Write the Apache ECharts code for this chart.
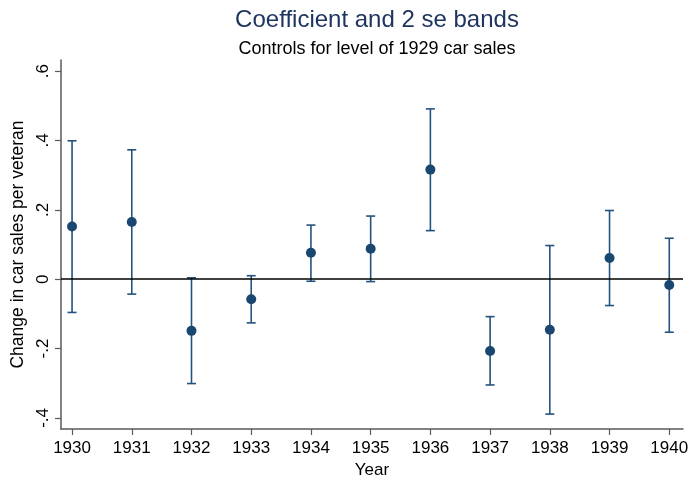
<!DOCTYPE html>
<html>
<head>
<meta charset="utf-8">
<script src="https://cdn.jsdelivr.net/npm/echarts@6/dist/echarts.min.js"></script>
<style>
  html, body { margin: 0; padding: 0; background: #fff; }
  #chart { width: 689px; height: 478px; }
</style>
</head>
<body>
<div id="chart"></div>
<script>
// Year-by-year coefficient estimates with +/- 2 standard error bands
const years = [1930, 1931, 1932, 1933, 1934, 1935, 1936, 1937, 1938, 1939, 1940];
const coef  = [0.152, 0.165, -0.149, -0.058, 0.076, 0.088, 0.316, -0.207, -0.146, 0.061, -0.017];
const upper = [0.399, 0.373, 0.004, 0.010, 0.156, 0.182, 0.491, -0.108, 0.097, 0.198, 0.118];
const lower = [-0.096, -0.043, -0.301, -0.126, -0.006, -0.007, 0.140, -0.305, -0.389, -0.076, -0.153];

const yTickValues = [-0.4, -0.2, 0, 0.2, 0.4, 0.6];
const yTickLabels = ['-.4', '-.2', '0', '.2', '.4', '.6'];

const navy = '#1a476f';
const font = 'Liberation Sans, Arial, Helvetica, sans-serif';

const bandData = years.map((y, i) => [y, lower[i], upper[i]]);
const pointData = years.map((y, i) => [y, coef[i]]);

const chart = echarts.init(document.getElementById('chart'), null, { renderer: 'canvas' });

chart.setOption({
  animation: false,
  backgroundColor: '#fff',
  title: [
    {
      text: 'Coefficient and 2 se bands',
      left: 372, top: 3, textAlign: 'center',
      textStyle: { fontFamily: font, fontSize: 24, fontWeight: 'normal', color: '#1f3560' }
    },
    {
      text: 'Controls for level of 1929 car sales',
      left: 372, top: 35, textAlign: 'center',
      textStyle: { fontFamily: font, fontSize: 18, fontWeight: 'normal', color: '#000' }
    }
  ],
  grid: { left: 61, right: 6, top: 60, bottom: 49, containLabel: false, outerBoundsMode: 'none' },
  xAxis: {
    type: 'value',
    min: 1929.815,
    max: 1940.23,
    name: 'Year',
    nameLocation: 'middle',
    nameGap: 28,
    nameTextStyle: { fontFamily: font, fontSize: 17, color: '#000' },
    axisLine: { show: true, onZero: false, lineStyle: { color: '#5a5a5a', width: 1.5 } },
    axisTick: { show: true, length: 6, customValues: years, lineStyle: { color: '#5a5a5a', width: 1.2 } },
    axisLabel: {
      customValues: years,
      margin: 11,
      fontFamily: font, fontSize: 17, color: '#000',
      formatter: v => String(Math.round(v))
    },
    splitLine: { show: false }
  },
  yAxis: {
    type: 'value',
    min: -0.432,
    max: 0.632,
    name: 'Change in car sales per veteran',
    nameLocation: 'middle',
    nameRotate: 90,
    nameGap: 31,
    nameTextStyle: { fontFamily: font, fontSize: 17.5, color: '#000' },
    axisLine: { show: true, onZero: false, lineStyle: { color: '#5a5a5a', width: 1.5 } },
    axisTick: { show: true, length: 6, customValues: yTickValues, lineStyle: { color: '#5a5a5a', width: 1.2 } },
    axisLabel: {
      customValues: yTickValues,
      rotate: 90,
      margin: 9,
      fontFamily: font, fontSize: 17, color: '#000',
      formatter: v => {
        const i = yTickValues.findIndex(t => Math.abs(t - v) < 1e-9);
        return i >= 0 ? yTickLabels[i] : '';
      }
    },
    splitLine: { show: false }
  },
  series: [
    {
      // reference line at zero
      type: 'line',
      data: [],
      markLine: {
        silent: true,
        symbol: 'none',
        label: { show: false },
        lineStyle: { color: '#000', width: 1.6, type: 'solid' },
        data: [{ yAxis: 0 }]
      }
    },
    {
      // capped standard-error bands
      type: 'custom',
      data: bandData,
      renderItem: (params, api) => {
        const x = api.value(0);
        const lo = api.coord([x, api.value(1)]);
        const hi = api.coord([x, api.value(2)]);
        const half = 4.5;
        const style = { stroke: '#24527f', lineWidth: 1.6, fill: null };
        return {
          type: 'group',
          children: [
            { type: 'line', shape: { x1: lo[0], y1: lo[1], x2: hi[0], y2: hi[1] }, style },
            { type: 'line', shape: { x1: hi[0] - half, y1: hi[1], x2: hi[0] + half, y2: hi[1] }, style },
            { type: 'line', shape: { x1: lo[0] - half, y1: lo[1], x2: lo[0] + half, y2: lo[1] }, style }
          ]
        };
      },
      z: 3
    },
    {
      type: 'scatter',
      data: pointData,
      symbol: 'circle',
      symbolSize: 10,
      itemStyle: { color: navy, opacity: 1 },
      z: 4
    }
  ]
});
</script>
</body>
</html>
